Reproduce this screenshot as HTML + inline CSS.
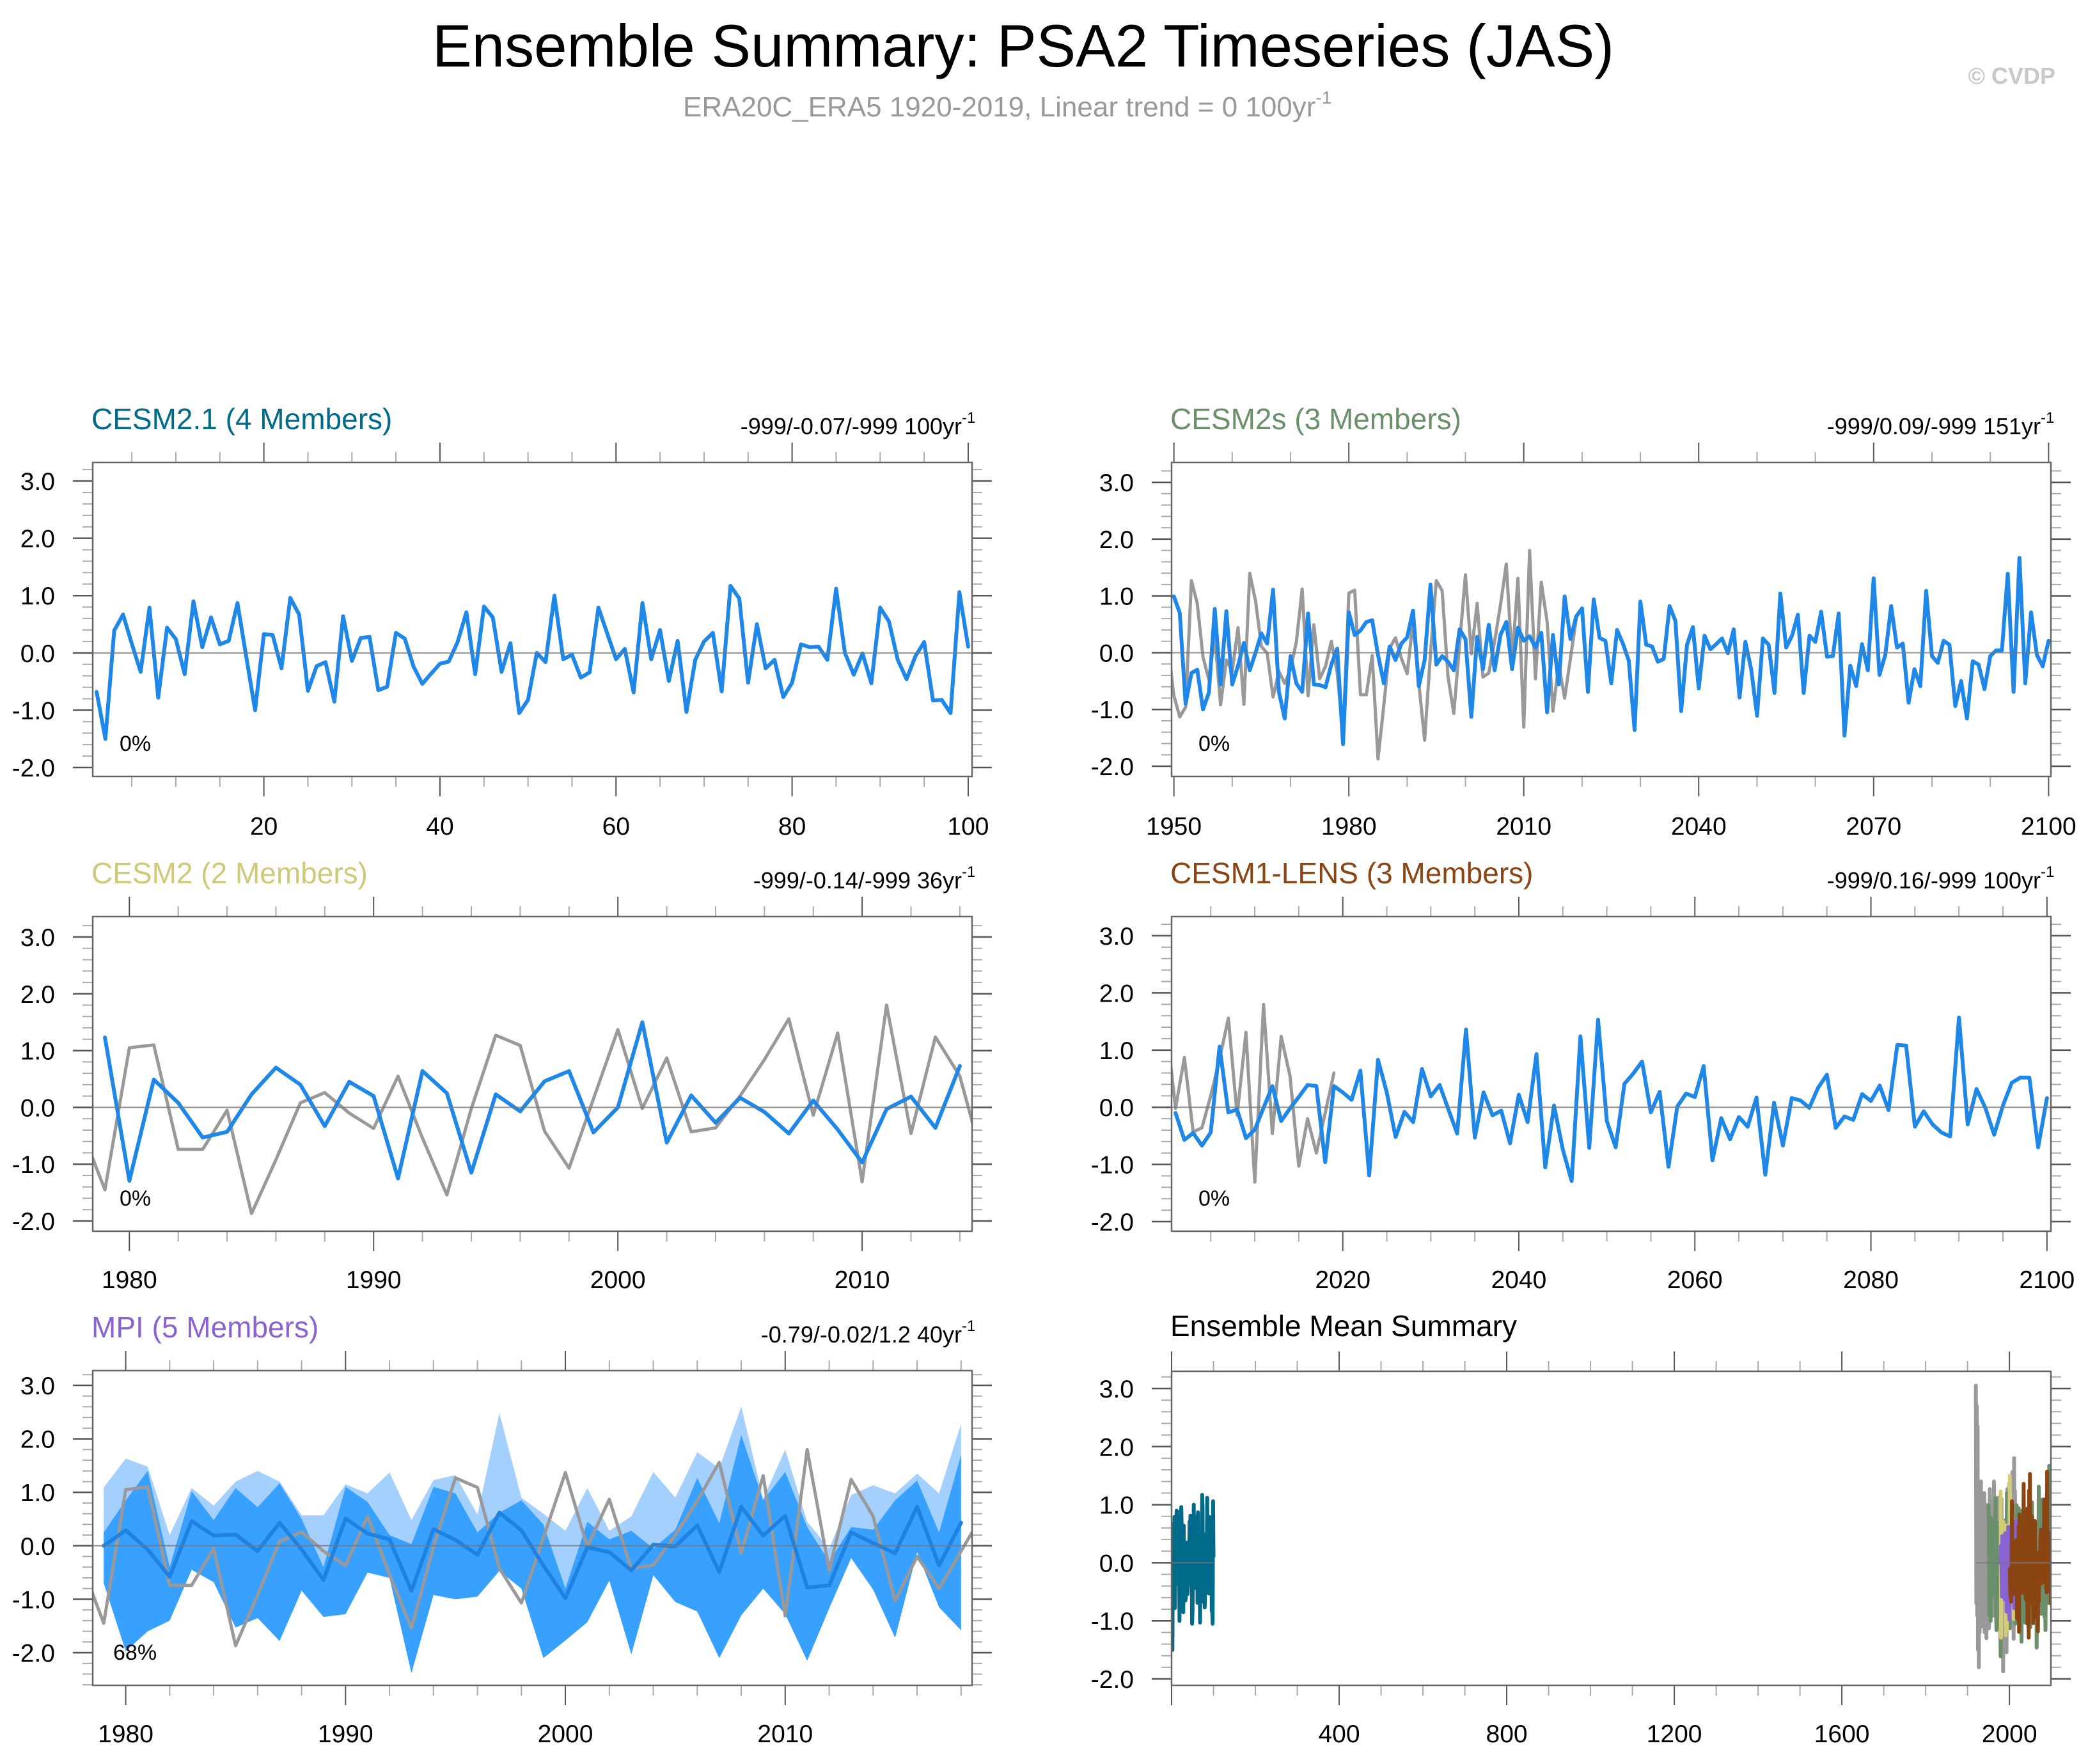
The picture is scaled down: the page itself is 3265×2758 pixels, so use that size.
<!DOCTYPE html>
<html><head><meta charset="utf-8"><title>Ensemble Summary: PSA2 Timeseries (JAS)</title>
<style>html,body{margin:0;padding:0;background:#fff;}svg{display:block;font-family:"Liberation Sans",Arial,sans-serif;}</style>
</head><body>
<svg id="chart" xmlns="http://www.w3.org/2000/svg" width="3265" height="2758" viewBox="0 0 3265 2758">
<rect x="0" y="0" width="3265" height="2758" fill="#fff"/>
<text x="1600" y="104" font-size="94" text-anchor="middle" fill="#000" textLength="1848" lengthAdjust="spacingAndGlyphs">Ensemble Summary: PSA2 Timeseries (JAS)</text>
<text x="1068" y="182" font-size="44" fill="#999">ERA20C_ERA5 1920-2019, Linear trend = 0 100yr<tspan dy="-20" font-size="28">-1</tspan></text>
<text x="3214" y="131" font-size="36" font-weight="bold" text-anchor="end" fill="#c8c8c8">© CVDP</text>
<g id="plots"></g>
</svg>
<script>
// ---- data ----
const obsYears0 = 1920;
const obsValues = [3.05,-0.7,2.7,-0.9,2.35,-1.5,0.6,-1.8,1.0,-1.2,0.7,-0.9,1.4,-1.1,0.9,-0.6,1.1,-1.0,0.5,-0.8,1.2,-1.2,0.8,-0.5,1.0,-1.3,0.6,-0.7,0.9,0.1,
 -0.76,-1.13,-0.96,1.27,0.87,-0.08,-0.48,0.31,-0.92,-0.13,-0.33,0.44,-0.91,1.4,0.91,0.11,-0.01,-0.78,-0.33,-0.54,
 -0.29,0.19,1.12,-0.76,0.49,-0.46,-0.24,0.2,-0.35,-1.45,1.05,1.1,-0.74,-0.74,-0.05,-1.87,-0.92,0.08,0.26,-0.1,
 -0.37,0.55,-0.54,-1.54,-0.02,1.27,1.09,-0.42,-1.07,0.15,1.37,-0.02,0.87,-0.43,-0.36,0.2,0.84,1.56,-0.14,1.31,
 -1.31,1.8,-0.46,1.24,0.55,-1.03,-0.2,-0.8,-0.1,0.6];
const cesm21Start = 1;
const cesm21Values = [-0.68,-1.5,0.39,0.67,0.16,-0.33,0.79,-0.78,0.44,0.24,-0.37,0.9,0.1,0.62,0.15,0.21,0.87,-0.07,-1.0,0.33,
 0.31,-0.27,0.96,0.67,-0.66,-0.23,-0.16,-0.85,0.64,-0.14,0.26,0.28,-0.65,-0.59,0.35,0.25,-0.24,-0.54,-0.36,-0.19,
 -0.15,0.19,0.71,-0.37,0.81,0.62,-0.33,0.17,-1.05,-0.82,0.0,-0.16,1.0,-0.11,-0.03,-0.43,-0.34,0.79,0.34,-0.11,
 0.07,-0.69,0.87,-0.11,0.4,-0.49,0.21,-1.03,-0.12,0.2,0.35,-0.67,1.17,0.95,-0.52,0.5,-0.27,-0.12,-0.77,-0.52,
 0.15,0.1,0.11,-0.12,1.12,0.0,-0.38,-0.01,-0.53,0.79,0.55,-0.12,-0.46,-0.06,0.19,-0.83,-0.82,-1.05,1.06,0.11];
const cesm2sStart = 1950;
const cesm2sValues = [0.99,0.7,-0.9,-0.36,-0.3,-1.0,-0.7,0.77,-0.56,0.73,-0.56,-0.23,0.17,-0.31,0.0,0.34,0.16,1.11,-0.69,-1.16,
 -0.06,-0.54,-0.69,0.69,-0.56,-0.57,-0.61,-0.21,0.07,-1.61,0.71,0.31,0.39,0.54,0.57,-0.04,-0.54,0.11,-0.13,0.16,
 0.27,0.74,-0.59,-0.13,1.2,-0.21,-0.06,-0.16,-0.31,0.41,0.24,-1.13,0.28,-0.29,0.49,-0.31,0.31,0.54,-0.29,0.44,
 0.21,0.29,0.09,0.35,-1.05,0.31,-0.56,0.99,0.24,0.64,0.78,-0.69,0.94,0.26,0.21,-0.54,0.4,0.16,-0.14,-1.36,
 0.9,0.14,0.11,-0.16,-0.11,0.82,0.56,-1.03,0.14,0.45,-0.63,0.3,0.06,0.15,0.25,-0.01,0.41,-0.79,0.19,-0.29,
 -1.11,0.25,0.14,-0.71,1.04,0.09,0.3,0.67,-0.71,0.3,0.19,0.72,-0.07,-0.06,0.69,-1.46,-0.23,-0.59,0.15,-0.31,
 1.31,-0.39,-0.04,0.82,0.09,0.16,-0.88,-0.29,-0.59,1.09,-0.06,-0.18,0.21,0.14,-0.94,-0.5,-1.16,-0.15,-0.21,-0.64,
 -0.06,0.04,0.04,1.39,-0.69,1.67,-0.54,0.71,-0.04,-0.24,0.21];
const cesm2Start = 1979;
const cesm2Values = [1.23,-1.29,0.49,0.08,-0.53,-0.43,0.23,0.7,0.4,-0.33,0.45,0.2,-1.25,0.64,0.25,-1.15,0.23,-0.07,0.46,0.64,
 -0.44,0.0,1.5,-0.62,0.21,-0.27,0.17,-0.08,-0.46,0.12,-0.39,-0.97,-0.03,0.19,-0.36,0.73];
const lensStart = 2001;
const lensValues = [-0.1,-0.57,-0.45,-0.67,-0.44,1.06,-0.09,-0.04,-0.54,-0.39,-0.01,0.37,-0.24,-0.02,0.18,0.39,0.37,-0.96,0.37,0.26,
 0.13,0.64,-1.19,0.83,0.26,-0.52,-0.08,-0.26,0.67,0.19,0.39,-0.04,-0.46,1.36,-0.53,0.26,-0.14,-0.06,-0.63,0.22,
 -0.26,0.93,-1.05,0.03,-0.74,-1.29,1.24,-0.71,1.53,-0.24,-0.7,0.41,0.59,0.8,-0.09,0.27,-1.04,0.01,0.24,0.18,
 0.72,-0.93,-0.19,-0.56,-0.17,-0.34,0.17,-1.18,0.08,-0.67,0.16,0.12,-0.01,0.34,0.57,-0.36,-0.16,-0.22,0.23,0.11,
 0.38,-0.05,1.09,1.08,-0.34,-0.07,-0.3,-0.44,-0.51,1.57,-0.3,0.32,-0.01,-0.48,0.03,0.43,0.52,0.52,-0.7,0.16];
const mpiStart = 1979;
const mpiMean = [0.0,0.29,-0.07,-0.58,0.46,0.19,0.21,-0.1,0.43,-0.07,-0.64,0.51,0.23,0.12,-0.84,0.31,0.11,-0.17,0.62,0.29,
 -0.37,-0.98,-0.03,-0.12,-0.46,0.02,-0.01,0.38,-0.49,0.73,0.19,0.56,-0.78,-0.74,0.25,0.05,-0.14,0.73,-0.37,0.43];
const mpiUpperLight = [1.09,1.63,1.48,0.2,1.08,0.75,1.2,1.4,1.2,0.57,0.57,1.15,0.98,1.37,0.48,1.23,1.32,0.58,2.48,0.9,
 0.6,0.28,1.08,0.28,0.55,1.38,0.9,1.75,1.45,2.6,0.88,1.8,0.45,-0.05,0.95,1.13,0.98,1.35,0.98,2.28];
const mpiUpperDark = [0.25,0.85,1.4,-0.4,1.02,0.48,1.08,0.72,1.17,0.5,-0.4,1.1,0.82,0.2,0.03,1.1,0.98,0.25,0.62,0.85,
 0.4,-0.8,0.45,0.12,0.28,-0.05,0.3,1.27,0.42,2.07,0.85,1.38,0.35,-0.3,0.35,0.3,0.85,1.22,0.25,1.7];
const mpiLower = [-0.7,-1.97,-1.6,-1.4,-0.45,-0.68,-1.53,-1.35,-1.78,-0.84,-1.33,-1.28,-0.5,-0.6,-2.38,-0.92,-1.0,-0.95,-0.47,-0.8,
 -2.1,-1.77,-1.43,-0.65,-2.03,-0.55,-1.05,-1.23,-2.1,-1.3,-0.8,-1.28,-2.15,-1.17,-0.23,-0.82,-1.72,-0.12,-1.15,-1.58];
const yTickValues = [-2,-1,0,1,2,3];
const yTickLabels = ["-2.0","-1.0","0.0","1.0","2.0","3.0"];

// ---- drawing helpers ----
const NS = "http://www.w3.org/2000/svg";
const root = document.getElementById("plots");
function el(tag, attrs, parent){ const e=document.createElementNS(NS,tag); for(const k in attrs) e.setAttribute(k,attrs[k]); (parent||root).appendChild(e); return e; }
function seriesPts(start, vals){ return vals.map((v,i)=>[start+i, v]); }
const BLUE="#1f87e8", GRAY="#999999";

function makePanel(p){
  const g = el("g", {});
  
  
  const sx = v => p.bx0 + (v - p.xmin)/(p.xmax - p.xmin)*(p.bx1 - p.bx0);
  const sy = v => p.by1 - (v - p.ymin)/(p.ymax - p.ymin)*(p.by1 - p.by0);
  const cid = "clip-"+p.name;
  const defs = el("defs", {}, g);
  const cp = el("clipPath", {id:cid}, defs);
  el("rect", {x:p.bx0, y:p.by0, width:p.bx1-p.bx0, height:p.by1-p.by0}, cp);
  for(let v=-2.6; v<=3.31; v+=0.2){
    const vv=Math.round(v*10)/10; if(vv<p.ymin||vv>p.ymax) continue;
    const major = Math.abs(vv-Math.round(vv))<1e-6;
    const y=sy(vv), L= major?31:16;
    const t1=el("line",{x1:p.bx0-L,x2:p.bx0,y1:y,y2:y,stroke:major?"#555":"#aaa","stroke-width":major?2.5:2},g);
    
    
    const t2=el("line",{x1:p.bx1,x2:p.bx1+L,y1:y,y2:y,stroke:major?"#555":"#aaa","stroke-width":major?2.5:2},g);
    
    
  }
  yTickValues.forEach((v,i)=>{
    const t=el("text",{x:p.labelRight, y:sy(v)+14, "font-size":39, "text-anchor":"end", fill:"#000"},g);
    t.textContent=yTickLabels[i];
    
    
  });
  const first = Math.ceil(p.xmin/p.xMinor)*p.xMinor;
  for(let v=first; v<=p.xmax+1e-6; v+=p.xMinor){
    const major = Math.abs(v/p.xMajor-Math.round(v/p.xMajor))<1e-6;
    const x=sx(v), L=major?31:16;
    const a=el("line",{x1:x,x2:x,y1:p.by0-L,y2:p.by0,stroke:major?"#555":"#aaa","stroke-width":2},g);
    
    
    const b=el("line",{x1:x,x2:x,y1:p.by1,y2:p.by1+L,stroke:major?"#555":"#aaa","stroke-width":2},g);
    
    
    if(major && v>p.xmin+0.001){
      const t=el("text",{x:x, y:p.xLabelY, "font-size":39, "text-anchor":"middle", fill:"#000"},g);
      t.textContent=String(Math.round(v));
      
      
    }
  }
  const plot = el("g",{"clip-path":"url(#"+cid+")"},g);
  (p.draw||(()=>{}))(plot, sx, sy);
  const zr = p.zeroRanges || [[p.xmin,p.xmax]];
  zr.forEach(r=>{
    const z=el("line",{x1:sx(r[0]),x2:sx(r[1]),y1:sy(0),y2:sy(0),stroke:"#777","stroke-width":2,"stroke-opacity":0.8},g);
    
    
  });
  const box=el("rect",{x:p.bx0,y:p.by0,width:p.bx1-p.bx0,height:p.by1-p.by0,fill:"none",stroke:"#666","stroke-width":2.5},g);
  
  
  const tt=el("text",{x:p.bx0-2,y:p.titleY,"font-size":46,fill:p.titleColor},g);
  tt.textContent=p.title;
  
  
  if(p.stat){
    const st=el("text",{x:p.bx1-16,y:p.titleY+8,"font-size":36,"text-anchor":"end",fill:"#000"},g);
    st.textContent=p.stat;
    
    
    const sup=el("text",{x:p.bx1-16,y:p.titleY-10,"font-size":24,fill:"#000"},g);
    sup.textContent="-1";
    
    
  }
  if(p.pct){
    const pc=el("text",{x:p.bx0+(p.pctDx||42),y:p.by1-40,"font-size":34,fill:"#000"},g);
    pc.textContent=p.pct;
    
    
  }
}
function line(parent, pts, sx, sy, color, w, name){
  const d = pts.map((q,i)=>(i?"L":"M")+sx(q[0]).toFixed(1)+","+sy(q[1]).toFixed(1)).join("");
  const e=el("path",{d:d,fill:"none",stroke:color,"stroke-width":w,"stroke-linejoin":"round","stroke-linecap":"round"},parent);
  
  
}
function band(parent, start, up, lo, sx, sy, color, name){
  let d="";
  up.forEach((v,i)=>{ d+=(i?"L":"M")+sx(start+i).toFixed(1)+","+sy(v).toFixed(1); });
  for(let i=lo.length-1;i>=0;i--) d+="L"+sx(start+i).toFixed(1)+","+sy(lo[i]).toFixed(1);
  const e=el("path",{d:d+"Z",fill:color,stroke:"none"},parent);
  
  
}
const obsPts = seriesPts(obsYears0, obsValues);

makePanel({name:"panel-cesm2-1", bx0:145,bx1:1520,by0:723,by1:1214, xmin:0.56,xmax:100.44, ymin:-2.156,ymax:3.324,
  xMajor:20,xMinor:5, labelRight:86, xLabelY:1305, titleY:671, title:"CESM2.1 (4 Members)", titleColor:"#006a8a",
  stat:"-999/-0.07/-999 100yr", pct:"0%",
  draw:(g,sx,sy)=>{ line(g, seriesPts(cesm21Start,cesm21Values), sx, sy, BLUE, 6, "cesm2-1-mean-line"); }});
makePanel({name:"panel-cesm2s", bx0:1832,bx1:3207,by0:723,by1:1214, xmin:1949.6,xmax:2100.4, ymin:-2.18,ymax:3.35,
  xMajor:30,xMinor:10, labelRight:1773, xLabelY:1305, titleY:671, title:"CESM2s (3 Members)", titleColor:"#6a8f6a",
  stat:"-999/0.09/-999 151yr", pct:"0%",
  draw:(g,sx,sy)=>{ line(g, obsPts, sx, sy, GRAY, 5, "observed-line"); line(g, seriesPts(cesm2sStart,cesm2sValues), sx, sy, BLUE, 6, "cesm2s-mean-line"); }});
makePanel({name:"panel-cesm2", bx0:145,bx1:1520,by0:1433,by1:1925, xmin:1978.5,xmax:2014.5, ymin:-2.18,ymax:3.36,
  xMajor:10,xMinor:2, labelRight:86, xLabelY:2014, titleY:1381, title:"CESM2 (2 Members)", titleColor:"#cfc97a",
  stat:"-999/-0.14/-999 36yr", pct:"0%",
  draw:(g,sx,sy)=>{ line(g, obsPts, sx, sy, GRAY, 5, "observed-line"); line(g, seriesPts(cesm2Start,cesm2Values), sx, sy, BLUE, 6, "cesm2-mean-line"); }});
makePanel({name:"panel-cesm1-lens", bx0:1832,bx1:3207,by0:1433,by1:1925, xmin:2000.55,xmax:2100.45, ymin:-2.168,ymax:3.336,
  xMajor:20,xMinor:5, labelRight:1773, xLabelY:2014, titleY:1381, title:"CESM1-LENS (3 Members)", titleColor:"#8b4513",
  stat:"-999/0.16/-999 100yr", pct:"0%",
  draw:(g,sx,sy)=>{ line(g, obsPts, sx, sy, GRAY, 5, "observed-line"); line(g, seriesPts(lensStart,lensValues), sx, sy, BLUE, 6, "cesm1-lens-mean-line"); }});
makePanel({name:"panel-mpi", bx0:145,bx1:1520,by0:2143,by1:2635, xmin:1978.5,xmax:2018.5, ymin:-2.61,ymax:3.275,
  xMajor:10,xMinor:2, labelRight:86, xLabelY:2724, titleY:2091, title:"MPI (5 Members)", titleColor:"#8a63d2",
  stat:"-0.79/-0.02/1.2 40yr", pct:"68%", pctDx:32,
  draw:(g,sx,sy)=>{
    band(g, mpiStart, mpiUpperLight, mpiLower, sx, sy, "#a3d0ff", "mpi-spread-band-outer");
    band(g, mpiStart, mpiUpperDark, mpiLower, sx, sy, "#38a0ff", "mpi-spread-band-inner");
    line(g, obsPts, sx, sy, GRAY, 5, "observed-line");
    line(g, seriesPts(mpiStart,mpiMean), sx, sy, "#1f82e0", 6, "mpi-mean-line"); }});
makePanel({name:"panel-ensemble-mean-summary", bx0:1832,bx1:3207,by0:2144,by1:2635, xmin:0,xmax:2099, ymin:-2.11,ymax:3.297,
  xMajor:400,xMinor:100, labelRight:1773, xLabelY:2724, titleY:2089, title:"Ensemble Mean Summary", titleColor:"#000",
  zeroRanges:[[1,100],[1920,2099]],
  draw:(g,sx,sy)=>{
    line(g, obsPts, sx, sy, GRAY, 6, "summary-observed-line");
    line(g, seriesPts(cesm2sStart,cesm2sValues), sx, sy, "#6a8f6a", 6, "summary-cesm2s-line");
    line(g, seriesPts(cesm2Start,cesm2Values), sx, sy, "#d2cc7a", 6, "summary-cesm2-line");
    line(g, seriesPts(mpiStart,mpiMean), sx, sy, "#8a63d2", 6, "summary-mpi-line");
    line(g, seriesPts(lensStart,lensValues), sx, sy, "#8b4513", 6, "summary-cesm1-lens-line");
    line(g, seriesPts(cesm21Start,cesm21Values), sx, sy, "#006a8a", 6, "summary-cesm2-1-line"); }});
</script>
</body></html>
